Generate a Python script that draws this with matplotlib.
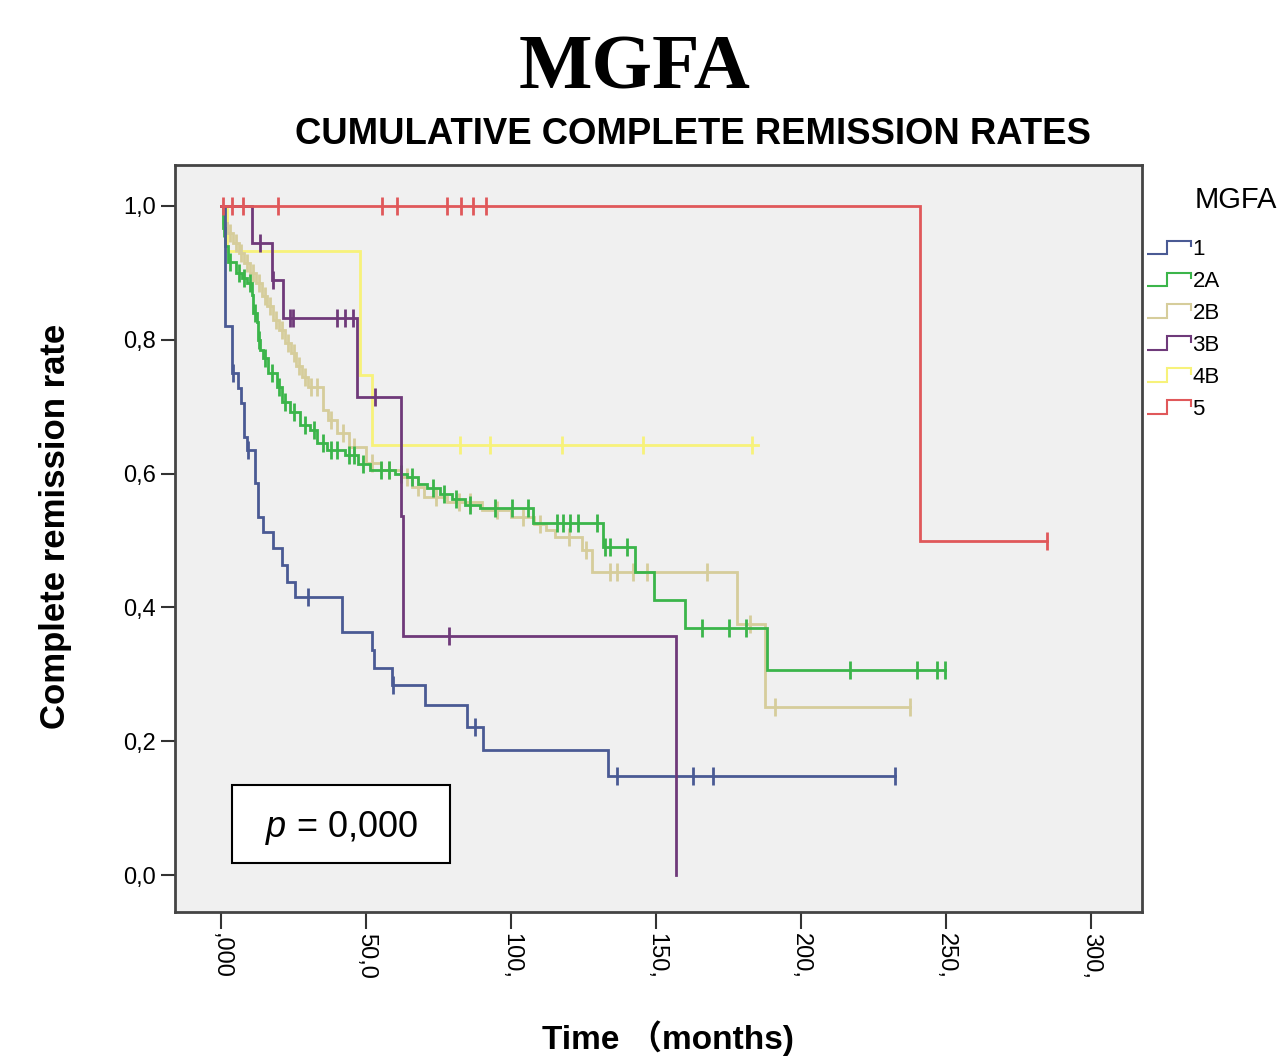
import numpy as np
import matplotlib
matplotlib.use("Agg")
from matplotlib import pyplot as plt
from matplotlib.legend_handler import HandlerBase
from matplotlib.lines import Line2D
from matplotlib.patches import Rectangle
from matplotlib.path import Path
from matplotlib.patches import PathPatch

# Kaplan-Meier curves (time in months, survival after each step)
groups = ["1", "2A", "2B", "3B", "4B", "5"]

g1_t = [1.3, 3.8, 5.9, 7.0, 8.0, 9.0, 11.7, 12.8, 14.5, 18.0, 21.0, 22.8, 25.5,
        41.7, 52.0, 52.8, 59.0, 70.3, 84.8, 90.3, 133.4]
g1_s = [0.82, 0.75, 0.728, 0.705, 0.655, 0.635, 0.586, 0.535, 0.513, 0.489, 0.463,
        0.438, 0.416, 0.363, 0.336, 0.309, 0.284, 0.254, 0.221, 0.187, 0.148]
g1_cens = [4.0, 9.3, 30.0, 59.3, 87.6, 136.5, 162.7, 169.6, 232.4]
g1_end = 232.4

g2a_t = [0.7, 1.4, 2.4, 5.2, 7.2, 9.0, 10.7, 11.0, 12.4, 12.8, 13.4, 14.5, 16.2,
         19.3, 21.0, 23.8, 27.2, 30.7, 33.1, 36.6, 42.8, 47.2, 51.4, 60.0, 64.0,
         68.0, 71.0, 75.5, 79.7, 84.0, 89.3, 107.6, 131.7, 142.8, 149.3, 160.0, 188.3]
g2a_s = [0.967, 0.94, 0.916, 0.90, 0.892, 0.885, 0.867, 0.84, 0.827, 0.80, 0.785,
         0.773, 0.75, 0.73, 0.707, 0.692, 0.673, 0.665, 0.646, 0.635, 0.628, 0.615,
         0.606, 0.600, 0.595, 0.585, 0.578, 0.570, 0.562, 0.553, 0.549, 0.526, 0.490,
         0.453, 0.411, 0.369, 0.306]
g2a_cens = [1.0, 3.0, 6.0, 8.0, 10.0, 11.8, 13.0, 15.0, 17.5, 20.0, 22.0, 25.0, 29.0,
            32.0, 35.0, 38.0, 40.0, 44.0, 46.0, 49.0, 55.0, 58.0, 62.0, 66.0, 73.0,
            77.0, 81.0, 86.0, 94.5, 100.3, 105.9, 116.0, 118.0, 120.3, 123.0, 129.6,
            132.4, 134.0, 140.0, 166.0, 175.0, 181.0, 217.0, 240.0, 247.0, 249.7]
g2a_end = 249.7

g2b_t = [0.7, 2, 4, 6, 8, 10, 12, 14, 16, 18, 20, 22, 24, 26, 28, 30, 35, 37, 40,
         44, 50, 55, 62, 66, 70, 78, 90, 100, 108, 112, 115, 124.5, 128, 178, 187.5]
g2b_s = [0.975, 0.96, 0.945, 0.93, 0.915, 0.90, 0.885, 0.865, 0.85, 0.83, 0.815,
         0.795, 0.78, 0.76, 0.745, 0.73, 0.695, 0.68, 0.66, 0.64, 0.616, 0.605,
         0.595, 0.58, 0.565, 0.558, 0.545, 0.535, 0.525, 0.515, 0.505, 0.486,
         0.453, 0.376, 0.252]
g2b_cens = [3, 5, 7, 9, 11, 13, 15, 17, 19, 21, 23, 25, 27, 29, 31, 33, 38, 42, 46,
            52, 58, 64, 68, 74, 82, 86, 95, 104, 110, 120, 126, 134, 136.5, 142,
            147, 167.6, 182.4, 191, 237.6]
g2b_end = 237.6

g3b_t = [10.7, 17.6, 21.4, 46.9, 62.0, 62.8, 157.0]
g3b_s = [0.944, 0.889, 0.833, 0.714, 0.536, 0.357, 0.0]
g3b_cens = [13.4, 18.0, 23.8, 24.8, 40.0, 42.8, 45.5, 53.0, 78.6]
g3b_end = 157.0

g4b_t = [2.0, 48.0, 52.0]
g4b_s = [0.933, 0.747, 0.642]
g4b_cens = [82.4, 92.8, 117.6, 145.5, 183.0]
g4b_end = 185.0

g5_t = [241.0]
g5_s = [0.5]
g5_cens = [0.7, 3.8, 7.6, 19.7, 55.5, 60.5, 77.9, 82.8, 87.0, 91.4, 285.0]
g5_end = 285.0

colors = ["#4a5a94", "#3bb54a", "#d6cd9b", "#6f3a7a", "#f7f27a", "#e0585a"]

xticks = [0, 50, 100, 150, 200, 250, 300]
xticklabels = [",000", "50,0", "100,", "150,", "200,", "250,", "300,"]
yticks = [0.0, 0.2, 0.4, 0.6, 0.8, 1.0]
yticklabels = ["0,0", "0,2", "0,4", "0,6", "0,8", "1,0"]

SANS = "Liberation Sans"


def km(ax, t, s, cens, end, color):
    tt = np.r_[0.0, t, end]
    ss = np.r_[1.0, s, s[-1]]
    ax.step(tt, ss, where="post", color=color, lw=2.0, solid_joinstyle="miter")
    idx = np.searchsorted(np.asarray(t), cens, side="right")
    cy = np.r_[1.0, s][idx]
    ax.plot(cens, cy, ls="none", marker="|", ms=13, mew=2.0, color=color)


class StepHandler(HandlerBase):
    def create_artists(self, legend, orig_handle, xdescent, ydescent, width,
                       height, fontsize, trans):
        x0, y0 = -xdescent, -ydescent
        verts = [(x0, y0 + 0.1 * height), (x0 + 0.45 * width, y0 + 0.1 * height),
                 (x0 + 0.45 * width, y0 + 0.9 * height), (x0 + width, y0 + 0.9 * height),
                 (x0 + width, y0 + 0.5 * height)]
        p = PathPatch(Path(verts), fill=False, edgecolor=orig_handle.get_color(),
                      lw=1.5, transform=trans)
        return [p]


def main():
    fig = plt.figure(figsize=(12.79, 10.60), dpi=100)
    ax = fig.add_axes([175 / 1279, 148 / 1060, 967 / 1279, 747 / 1060])
    ax.set_facecolor("#f0f0f0")

    all_data = [
        (g1_t, g1_s, g1_cens, g1_end),
        (g2a_t, g2a_s, g2a_cens, g2a_end),
        (g2b_t, g2b_s, g2b_cens, g2b_end),
        (g3b_t, g3b_s, g3b_cens, g3b_end),
        (g4b_t, g4b_s, g4b_cens, g4b_end),
        (g5_t, g5_s, g5_cens, g5_end),
    ]
    # yellow under the rest, then tan, green, blue, purple, red
    for i in [4, 2, 1, 0, 3, 5]:
        t, s, c, e = all_data[i]
        km(ax, t, s, c, e, colors[i])

    ax.set_xlim(-15.9, 317.6)
    ax.set_ylim(-0.055, 1.061)
    ax.set_xticks(xticks)
    ax.set_xticklabels(xticklabels, rotation=270, fontsize=17, family=SANS,
                       va="top", ha="center")
    ax.set_yticks(yticks)
    ax.set_yticklabels(yticklabels, fontsize=17, family=SANS)
    ax.tick_params(axis="x", length=12, width=1.5, pad=3, color="#333333")
    ax.tick_params(axis="y", length=10, width=1.5, pad=4, color="#333333")
    for sp in ax.spines.values():
        sp.set_linewidth(2)
        sp.set_color("#444444")

    fig.text(55 / 1279, 1 - 526 / 1060, "Complete remission rate", fontsize=25,
             fontweight="bold", family=SANS, rotation=90, ha="center", va="center")
    fig.text(668 / 1279, 1 - 1038 / 1060, "Time （months)", fontsize=24,
             fontweight="bold", family=[SANS, "Noto Sans CJK SC"],
             ha="center", va="center")

    fig.text(635 / 1279, 1 - 70 / 1060, "MGFA", fontsize=56, fontweight="bold",
             family="Liberation Serif", ha="center", va="center")
    fig.text(693 / 1279, 1 - 134 / 1060, "CUMULATIVE COMPLETE REMISSION RATES",
             fontsize=26.3, fontweight="bold", family=SANS, ha="center", va="center")

    # p-value box
    ax.add_patch(Rectangle((0.059, 0.0656), 0.2254, 0.1044, transform=ax.transAxes,
                           facecolor="white", edgecolor="black", lw=1.5, zorder=5))
    ax.text(0.172, 0.113, r"$p$ = 0,000", transform=ax.transAxes, fontsize=26,
            family=SANS, ha="center", va="center", zorder=6)

    # legend outside the axes on the right
    fig.text(1195 / 1279, 1 - 200 / 1060, "MGFA", fontsize=21, family=SANS,
             ha="left", va="center")
    handles = [Line2D([], [], color=c) for c in colors]
    fig.legend(handles, groups, loc="upper left",
               bbox_to_anchor=(1147 / 1279, 1 - 239 / 1060), frameon=False,
               handler_map={Line2D: StepHandler()}, handlelength=2.0,
               handleheight=0.8, handletextpad=0.05, labelspacing=0.48,
               borderpad=0, borderaxespad=0, prop={"family": SANS, "size": 16})

    fig.savefig("out.png", dpi=100)


if __name__ == "__main__":
    plt.rcParams["mathtext.fontset"] = "custom"
    plt.rcParams["mathtext.it"] = "Liberation Sans:italic"
    main()
